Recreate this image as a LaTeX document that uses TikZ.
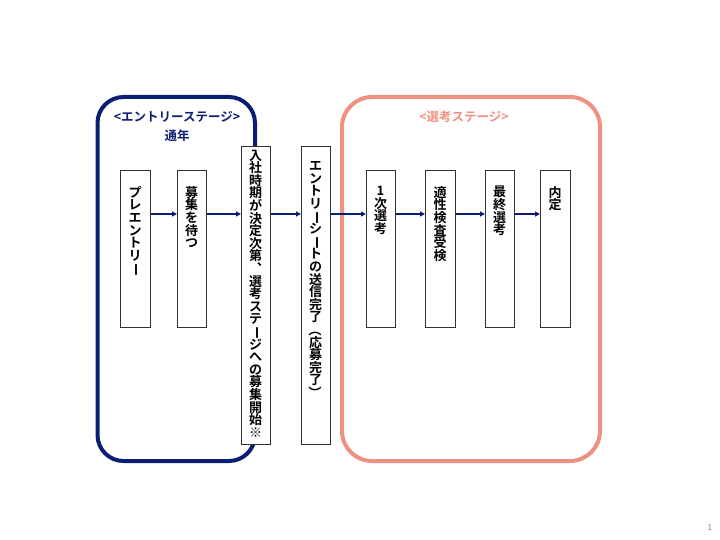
\documentclass[tikz,border=0pt]{standalone}
\usepackage{fontspec}
\usepackage{graphicx}
\newfontfamily\jpfont{Noto Sans CJK JP Bold}
\usetikzlibrary{arrows.meta}
\definecolor{navy}{RGB}{12,30,115}
\definecolor{salmon}{RGB}{238,145,130}
\definecolor{boxline}{RGB}{50,50,50}
\newcommand\vrot[1]{\raisebox{0pt}[0.88em][0.12em]{\rotatebox[origin=c]{-90}{#1}}}
\tikzset{
  stagebox/.style={line width=4pt, rounded corners=26pt},
  stepbox/.style={draw=boxline, line width=0.9pt, fill=white, inner sep=0pt, anchor=north west},
  vtext/.style={anchor=north, inner sep=0pt, align=center, font={\fontsize{13}{12.6}\jpfont\lineskiplimit=-20pt\relax}},
  flow/.style={navy, line width=1.6pt, -{Triangle[length=5pt,width=5pt]}},
  lab/.style={font=\fontsize{12.5}{15}\jpfont, align=center}
}
\begin{document}
\begin{tikzpicture}[x=1pt,y=-1pt]
\useasboundingbox (0,0) rectangle (720,540);
% stage frames
\draw[stagebox, navy] (97.5,97) rectangle (255,461);
\draw[stagebox, salmon, rounded corners=30pt] (342,97) rectangle (600,461);
\node[lab, navy] (entrylab) at (177,117) {<エントリーステージ>};
\node[lab, navy] (tsunen) at (177,136) {通年};
\node[lab, salmon] (senkolab) at (464,117) {<選考ステージ>};
% boxes
\node[stepbox, minimum width=30pt, minimum height=157pt] (b1) at (120,170) {};
\node[stepbox, minimum width=29pt, minimum height=157pt] (b2) at (177,170) {};
\node[stepbox, minimum width=29pt, minimum height=298pt] (b3) at (241,146) {};
\node[stepbox, minimum width=29pt, minimum height=298pt] (b4) at (301,146) {};
\node[stepbox, minimum width=29pt, minimum height=157pt] (b5) at (366,170) {};
\node[stepbox, minimum width=30pt, minimum height=157pt] (b6) at (425,170) {};
\node[stepbox, minimum width=29pt, minimum height=157pt] (b7) at (485,170) {};
\node[stepbox, minimum width=30pt, minimum height=157pt] (b8) at (540,170) {};
% vertical texts
\node[vtext] (t1) at (135,186) {プ\\レ\\エ\\ン\\ト\\リ\\\vrot{ー}};
\node[vtext] (t2) at (191.5,186) {募\\集\\を\\待\\つ};
\node[vtext] (t3) at (255.5,149.5) {入\\社\\時\\期\\が\\決\\定\\次\\第\\︑\\選\\考\\ス\\テ\\\vrot{ー}\\ジ\\へ\\の\\募\\集\\開\\始\\※};
\node[vtext] (t4) at (315.5,161.5) {エ\\ン\\ト\\リ\\\vrot{ー}\\シ\\\vrot{ー}\\ト\\の\\送\\信\\完\\了\\\vrot{（}\\応\\募\\完\\了\\\vrot{）}};
\node[vtext] (t5) at (380.5,186) {1\\次\\選\\考};
\node[vtext] (t6) at (440,186) {適\\性\\検\\査\\受\\検};
\node[vtext] (t7) at (499.5,186) {最\\終\\選\\考};
\node[vtext] (t8) at (555,186) {内\\定};
% arrows
\foreach \a/\b in {b1/b2,b2/b3,b3/b4,b4/b5,b5/b6,b6/b7,b7/b8}
  \draw[flow] (\a.east |- 0,214) -- (\b.west |- 0,214);
% page number
\node[font=\fontsize{9}{10}\sffamily, text=gray] (pnum) at (710,527) {1};
\end{tikzpicture}
\end{document}
